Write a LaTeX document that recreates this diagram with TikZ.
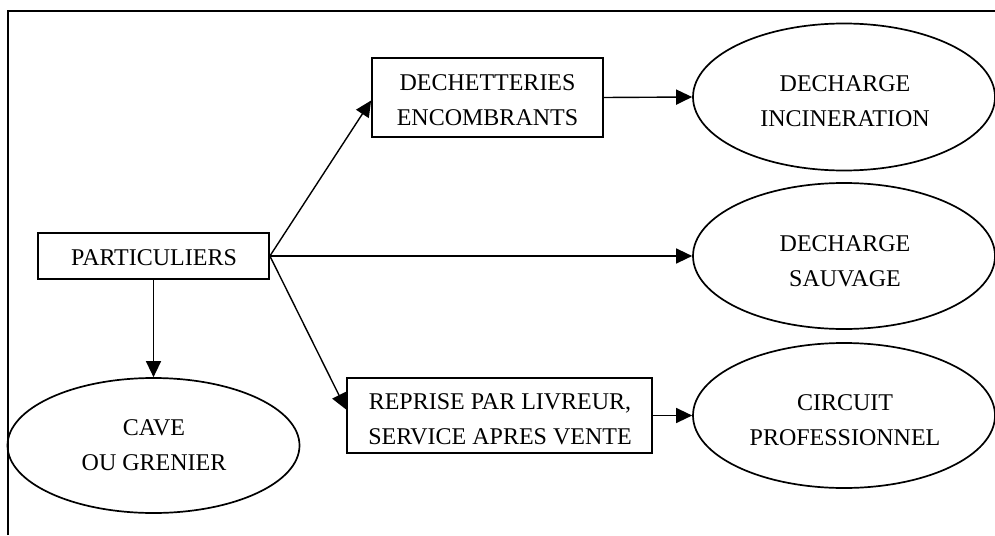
\documentclass[tikz,border=0pt]{standalone}
\usepackage{fontspec}
\setmainfont{Liberation Serif}
\usetikzlibrary{arrows.meta,shapes.geometric}
\begin{document}
\begin{tikzpicture}[x=1pt,y=-1pt,
  box/.style={draw,line width=1.8pt,inner sep=0pt},
  oval/.style={draw,ellipse,line width=1.7pt,inner sep=0pt},
  lbl/.style={align=center,font=\fontsize{24}{35}\selectfont,inner sep=0pt},
  arr/.style={line width=1.4pt,-{Triangle[length=16pt,width=15pt]}}]
\useasboundingbox (0,0) rectangle (995,535);
\draw[line width=2.2pt] (8,535) -- (8,11) -- (995,11);

\node[box,minimum width=231pt,minimum height=46pt] (part) at (153.5,256) {};
\node[box,minimum width=231pt,minimum height=79pt] (dech) at (487.5,97.5) {};
\node[box,minimum width=305pt,minimum height=75pt] (rep) at (499.5,415.5) {};
\node[oval,minimum width=302pt,minimum height=147pt] (inc) at (844,97) {};
\node[oval,minimum width=302pt,minimum height=146pt] (sauv) at (844,256) {};
\node[oval,minimum width=302pt,minimum height=145pt] (circ) at (844,415.5) {};
\node[oval,minimum width=292pt,minimum height=135pt] (cave) at (153.5,445.5) {};

\node[lbl] (partT) at (154,258) {PARTICULIERS};
\node[lbl] (dechT) at (487.5,100) {DECHETTERIES\\ENCOMBRANTS};
\node[lbl] (repT) at (500,419) {REPRISE PAR LIVREUR,\\SERVICE APRES VENTE};
\node[lbl] (incT) at (845,101) {DECHARGE\\INCINERATION};
\node[lbl] (sauvT) at (845,261) {DECHARGE\\SAUVAGE};
\node[lbl] (circT) at (845,420.5) {CIRCUIT\\PROFESSIONNEL};
\node[lbl] (caveT) at (154,445) {CAVE\\OU GRENIER};

\draw[arr] (part.east) -- ([yshift=-3pt]dech.west);
\draw[arr] (part.east) -- (sauv.west);
\draw[arr] (part.east) -- ([yshift=6pt]rep.west);
\draw[arr] (dech.east) -- (inc.west);
\draw[arr] (rep.east) -- (circ.west);
\draw[arr] (part.south) -- (cave.north);
\end{tikzpicture}
\end{document}
